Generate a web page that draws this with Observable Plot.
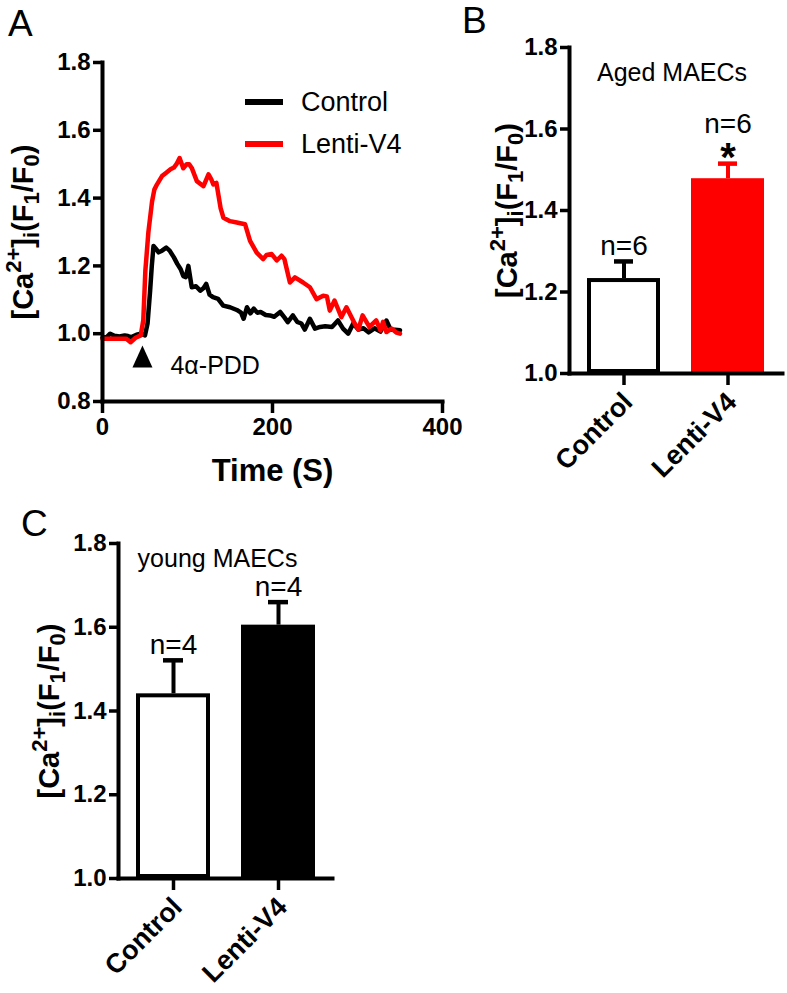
<!DOCTYPE html>
<html>
<head>
<meta charset="utf-8">
<script src="https://cdn.jsdelivr.net/npm/d3@7"></script>
<script src="https://cdn.jsdelivr.net/npm/@observablehq/plot@0.6"></script>
<style>
  body { margin: 0; background: #fff; }
  #fig { position: relative; width: 787px; height: 993px; background: #fff; overflow: hidden;
         font-family: "Liberation Sans", Arial, Helvetica, sans-serif; color: #000; }
  .panel { position: absolute; }
  .letter { position: absolute; font-size: 37px; line-height: 1; font-weight: normal; }
  .legtext { position: absolute; font-size: 27px; line-height: 1; white-space: nowrap; }
  .swatch { position: absolute; height: 6px; width: 38px; }
</style>
</head>
<body>
<div id="fig"></div>
<script>
const FONT = '"Liberation Sans", Arial, Helvetica, sans-serif';

// ---------- Panel A: time course ----------
const seriesNames = ["Control", "Lenti-V4"];
const controlTime = [0,5,9,14,20,26,30,34,40,45,50,53,56,58,60,63,66,70,75,79,84,88,92,95,98,101,105,110,115,119,122,126,130,136,142,150,158,163,166,170,174,178,182,186,192,197,202,209,214,218,224,229,234,238,244,250,256,262,270,277,283,289,295,301,307,313,320,327,334,339,344,350];
const controlRatio = [0.988,0.99,1.0,0.994,0.992,0.995,0.993,0.99,0.997,1.0,0.995,1.03,1.126,1.2,1.259,1.25,1.24,1.245,1.254,1.245,1.225,1.206,1.19,1.17,1.167,1.2,1.137,1.14,1.127,1.135,1.147,1.115,1.108,1.103,1.083,1.078,1.07,1.062,1.044,1.078,1.06,1.074,1.062,1.064,1.055,1.054,1.05,1.064,1.048,1.034,1.054,1.035,1.03,1.012,1.044,1.015,1.02,1.022,1.02,1.039,1.015,1.0,1.03,1.012,1.016,1.004,1.016,1.006,1.039,1.012,1.012,1.01];
const lentiTime = [0,10,20,28,33,39,45,48,50.4,54,58.3,61,64,70,75,80,84,87,90.7,95,99,102,105,111,118.8,124.7,128,130.5,134,139,142.3,150,158,167.7,173.6,181.4,189,193,199,205,210.6,214,220.5,226.4,236,244,251.8,259.6,264,267.4,273,281,287,296.7,301,306,314,322,327,330,334,340,346,350];
const lentiRatio = [0.985,0.985,0.985,0.985,0.975,0.988,0.995,1.04,1.185,1.3,1.39,1.425,1.44,1.465,1.475,1.485,1.49,1.5,1.518,1.488,1.5,1.5,1.489,1.45,1.435,1.47,1.455,1.44,1.445,1.37,1.342,1.332,1.328,1.323,1.274,1.239,1.22,1.232,1.235,1.216,1.23,1.22,1.151,1.166,1.151,1.137,1.102,1.112,1.11,1.068,1.098,1.049,1.078,1.03,1.012,1.054,1.02,1.039,1.01,1.035,1.005,1.015,1.003,1.0];
const timeTicks = [0, 200, 400];
const ratioTicksA = [0.8, 1.0, 1.2, 1.4, 1.6, 1.8];
const stimulusTime = [47];
const stimulusLabel = "4α-PDD";
const timeAxisLabel = "Time (S)";

// ---------- Panels B and C: bar charts ----------
const groups = ["Control", "Lenti-V4"];
const ratioTicksBC = [1.0, 1.2, 1.4, 1.6, 1.8];
const agedTitle = "Aged MAECs";
const agedMean = [1.233, 1.478];
const agedSem = [0.042, 0.037];
const agedN = ["n=6", "n=6"];
const agedSig = ["", "*"];
const youngTitle = "young MAECs";
const youngMean = [1.441, 1.605];
const youngSem = [0.08, 0.055];
const youngN = ["n=4", "n=4"];
const youngSig = ["", ""];

// y-axis label parts: [text, role]
const yLabelParts = [["[Ca", ""], ["2+", "sup"], ["]", ""], ["i", "sub"], ["(F", ""], ["1", "sub"], ["/F", ""], ["0", "sub"], [")", ""]];
const yLabelPlain = yLabelParts.map(p => p[0]).join("");

// ---------- helpers ----------
const fmt1 = d => d.toFixed(1);
const tickFont = {fontSize: 24, fontWeight: "bold"};
const LABEL_FS = 29;

function richYLabel(svg, fs) {
  d3.select(svg).selectAll("text").filter(function () { return this.textContent === yLabelPlain; })
    .each(function () {
      const t = d3.select(this);
      t.text("");
      let shift = 0;
      for (const [s, role] of yLabelParts) {
        const target = role === "sup" ? -0.42 * fs : role === "sub" ? 0.22 * fs : 0;
        t.append("tspan").attr("dy", target - shift)
          .attr("font-size", role ? 0.76 * fs : fs).text(s);
        shift = target;
      }
    });
}

const tallTriangle = {
  draw(context, size) {
    const r = Math.sqrt(size / Math.PI);
    context.moveTo(0, -1.1 * r);
    context.lineTo(r, 1.1 * r);
    context.lineTo(-r, 1.1 * r);
    context.closePath();
  }
};

const fig = document.getElementById("fig");
function place(node, left, top) {
  node.classList.add("panel");
  node.style.left = left + "px";
  node.style.top = top + "px";
  fig.appendChild(node);
}

// ---------- Panel A ----------
const seriesA = [
  ...controlTime.map((t, i) => ({series: seriesNames[0], time: t, ratio: controlRatio[i]})),
  ...lentiTime.map((t, i) => ({series: seriesNames[1], time: t, ratio: lentiRatio[i]}))
];

const plotA = Plot.plot({
  width: 470, height: 500,
  marginLeft: 102, marginRight: 28, marginTop: 62, marginBottom: 99,
  x: {domain: [0, 400]},
  y: {domain: [0.8, 1.8]},
  style: {fontFamily: FONT, fontSize: "24px", color: "black", background: "transparent", overflow: "visible"},
  marks: [
    Plot.axisX({ticks: timeTicks, tickSize: 12, tickPadding: 4, strokeWidth: 3.5, label: null, ...tickFont}),
    Plot.axisY({ticks: ratioTicksA, tickFormat: fmt1, tickSize: 9, tickPadding: 3, strokeWidth: 3.5, label: null, ...tickFont}),
    Plot.line(seriesA.filter(d => d.series === seriesNames[0]), {x: "time", y: "ratio", stroke: "black", strokeWidth: 4.5, strokeLinejoin: "round"}),
    Plot.line(seriesA.filter(d => d.series === seriesNames[1]), {x: "time", y: "ratio", stroke: "#ff0000", strokeWidth: 4.5, strokeLinejoin: "round"}),
    Plot.frame({anchor: "left", strokeWidth: 4, strokeLinecap: "square"}),
    Plot.frame({anchor: "bottom", strokeWidth: 4, strokeLinecap: "square"}),
    Plot.dot(stimulusTime, {x: d => d, frameAnchor: "bottom", dy: -45, symbol: tallTriangle, r: 10, fill: "black", stroke: null}),
    Plot.text(stimulusTime, {x: d => d, text: () => stimulusLabel, frameAnchor: "bottom", lineAnchor: "middle", dx: 28, dy: -36, textAnchor: "start", fontSize: 25, fontWeight: "normal"}),
    Plot.text([timeAxisLabel], {text: d => d, frameAnchor: "bottom", lineAnchor: "middle", textAnchor: "middle", dy: 70, fontSize: 31, fontWeight: "bold"}),
    Plot.text([yLabelPlain], {text: d => d, frameAnchor: "left", textAnchor: "middle", lineAnchor: "middle", rotate: -90, dx: -79, fontSize: LABEL_FS, fontWeight: "bold"})
  ]
});
richYLabel(plotA, LABEL_FS);
place(plotA, 0, 0);

// ---------- Bar panels ----------
function barPanel({title, means, sems, ns, sigs, fills, edges, width, height, mL, mR, mT, mB, titleDx, titleDy, labelDx}) {
  const rows = groups.map((g, i) => ({group: g, mean: means[i], top: means[i] + sems[i], n: ns[i], sig: sigs[i]}));
  const marks = [
    Plot.axisY({ticks: ratioTicksBC, tickFormat: fmt1, tickSize: 9, tickPadding: 3, strokeWidth: 3.5, label: null, ...tickFont}),
    Plot.axisX({text: null, tickSize: 12, strokeWidth: 3.5, label: null}),
    Plot.axisX({tickSize: 0, tickPadding: 24, dx: 4, tickRotate: -45, label: null, fontSize: 27, fontWeight: "bold"})
  ];
  rows.forEach((r, i) => {
    const one = [r];
    marks.push(Plot.ruleX(one, {x: "group", y1: "mean", y2: "top", stroke: edges[i], strokeWidth: 4}));
    marks.push(Plot.tickY(one, {x: "group", y: "top", stroke: edges[i], strokeWidth: 4.5, insetLeft: 27, insetRight: 27}));
    marks.push(Plot.barY(one, {x: "group", y1: () => 1, y2: "mean", fill: fills[i], stroke: edges[i], strokeWidth: 4, inset: 2}));
  });
  marks.push(
    Plot.frame({anchor: "left", strokeWidth: 4, strokeLinecap: "square"}),
    Plot.frame({anchor: "bottom", strokeWidth: 4, strokeLinecap: "square"}),
    Plot.text(rows.filter(r => !r.sig), {x: "group", y: "top", text: "n", dy: -15, lineAnchor: "middle", fontSize: 28, fontWeight: "normal"}),
    Plot.text(rows.filter(r => r.sig), {x: "group", y: "top", text: "n", dy: -40, lineAnchor: "middle", fontSize: 28, fontWeight: "normal"}),
    Plot.text(rows.filter(r => r.sig), {x: "group", y: "top", text: "sig", dy: -5, lineAnchor: "middle", fontSize: 40, fontWeight: "bold"}),
    Plot.text([title], {text: d => d, frameAnchor: "top", lineAnchor: "middle", textAnchor: "middle", dx: titleDx, dy: titleDy, fontSize: 25, fontWeight: "normal"}),
    Plot.text([yLabelPlain], {text: d => d, frameAnchor: "left", textAnchor: "middle", lineAnchor: "middle", rotate: -90, dx: labelDx, fontSize: LABEL_FS, fontWeight: "bold"})
  );
  const p = Plot.plot({
    width, height, marginLeft: mL, marginRight: mR, marginTop: mT, marginBottom: mB,
    x: {domain: groups, paddingInner: 0.3, paddingOuter: 0.165},
    y: {domain: [1.0, 1.8]},
    style: {fontFamily: FONT, fontSize: "24px", color: "black", background: "transparent", overflow: "visible"},
    marks
  });
  richYLabel(p, LABEL_FS);
  return p;
}

const plotB = barPanel({
  title: agedTitle, means: agedMean, sems: agedSem, ns: agedN, sigs: agedSig,
  fills: ["white", "#ff0000"], edges: ["black", "#ff0000"],
  width: 317, height: 500, mL: 99, mR: 5, mT: 47, mB: 127, titleDx: -4, titleDy: 25, labelDx: -62
});
place(plotB, 470, 0);

const plotC = barPanel({
  title: youngTitle, means: youngMean, sems: youngSem, ns: youngN, sigs: youngSig,
  fills: ["white", "black"], edges: ["black", "black"],
  width: 360, height: 493, mL: 118, mR: 28, mT: 43, mB: 115, titleDx: -8, titleDy: 15, labelDx: -69
});
place(plotC, 0, 500);

// ---------- Legend for panel A ----------
const legendColors = ["black", "#ff0000"];
seriesNames.forEach((name, i) => {
  const sw = document.createElement("div");
  sw.className = "swatch";
  sw.style.left = "245px";
  sw.style.top = (99 + i * 42) + "px";
  sw.style.background = legendColors[i];
  fig.appendChild(sw);
  const tx = document.createElement("div");
  tx.className = "legtext";
  tx.style.left = "301px";
  tx.style.top = (88.8 + i * 42) + "px";
  tx.textContent = name;
  fig.appendChild(tx);
});

// ---------- Panel letters ----------
[["A", 8, 5], ["B", 462, 2], ["C", 21, 505]].forEach(([s, l, t]) => {
  const d = document.createElement("div");
  d.className = "letter";
  d.style.left = l + "px";
  d.style.top = t + "px";
  d.textContent = s;
  fig.appendChild(d);
});
</script>
</body>
</html>
